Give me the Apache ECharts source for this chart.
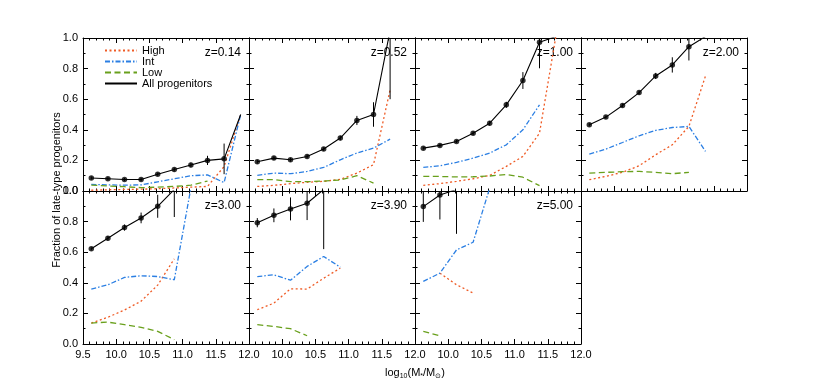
<!DOCTYPE html>
<html>
<head>
<meta charset="utf-8">
<script src="https://cdn.jsdelivr.net/npm/echarts@6/dist/echarts.min.js"></script>
<style>html,body{margin:0;padding:0;background:#fff}#c{width:830px;height:383px}</style>
</head>
<body>
<div id="c"></div>
<script>
// ---------- DATA ----------
const redshiftLabels = ['z=0.14','z=0.52','z=1.00','z=2.00','z=3.00','z=3.90','z=5.00'];
const massBins = [9.625, 9.875, 10.125, 10.375, 10.625, 10.875, 11.125, 11.375, 11.625, 11.875];
const xTicks = [9.5, 10.0, 10.5, 11.0, 11.5, 12.0];
const yTicks = [0.0, 0.2, 0.4, 0.6, 0.8, 1.0];

// fraction of late-type progenitors, per panel (index into massBins)
const highFrac = [
  [0.005,0.008,0.010,0.012,0.015,0.020,0.025,0.030,0.160,0.500],
  [0.030,0.037,0.048,0.057,0.063,0.076,0.117,0.172,0.661],
  [0.037,0.048,0.063,0.080,0.102,0.161,0.226,0.378,1.020],
  [0.074,0.096,0.122,0.165,0.237,0.302,0.422,0.752],
  [0.137,0.175,0.222,0.280,0.385,0.557],
  [0.224,0.267,0.361,0.359,0.430,0.496],
  [null,0.463,0.387,0.333]
];
const intFrac = [
  [0.043,0.040,0.038,0.040,0.060,0.080,0.100,0.105,0.055,0.500],
  [0.102,0.117,0.113,0.128,0.154,0.204,0.248,0.280,0.339],
  [0.154,0.165,0.187,0.215,0.248,0.302,0.400,0.563],
  [0.241,0.274,0.317,0.361,0.396,0.415,0.422,0.259],
  [0.359,0.387,0.435,0.446,0.441,0.420,1.020],
  [0.441,0.452,0.417,0.507,0.572,0.502],
  [0.409,0.463,0.615,0.665,1.020]
];
const lowFrac = [
  [0.038,0.033,0.028,0.022,0.025,0.030,0.038,0.065],
  [0.074,0.074,0.061,0.061,0.065,0.072,0.100,0.052],
  [0.095,0.095,0.092,0.093,0.098,0.108,0.090,0.035],
  [0.117,0.122,0.126,0.128,0.122,0.113,0.122],
  [0.137,0.143,0.126,0.109,0.083,0.028],
  [0.126,0.115,0.100,0.054],
  [0.083,0.054]
];
const allFrac = [
  [0.085,0.080,0.075,0.075,0.110,0.140,0.170,0.200,0.210,0.500],
  [0.191,0.215,0.204,0.226,0.274,0.346,0.461,0.500,1.050],
  [0.280,0.298,0.324,0.378,0.443,0.563,0.722,0.972,1.010],
  [0.433,0.483,0.559,0.643,0.752,0.824,0.943,1.010],
  [0.622,0.691,0.761,0.824,0.900,1.010],
  [0.793,0.841,0.883,0.920,1.010],
  [0.898,0.974,1.010]
];
const allErr = [
  [0.010,0.010,0.010,0.010,0.010,0.012,0.015,0.030,0.100,null],
  [0.012,0.012,0.012,0.012,0.012,0.015,0.030,0.080,0.450],
  [0.010,0.010,0.010,0.012,0.015,0.020,0.055,0.170,null],
  [0.010,0.010,0.012,0.012,0.020,0.050,0.090,null],
  [0.010,0.015,0.020,0.035,0.075,0.180],
  [0.030,0.045,0.075,0.110,0.390],
  [0.100,0.160,0.290]
];
// number of leading points drawn with a filled marker
const allMarkerCount = [9, 8, 8, 7, 5, 4, 2];

// ---------- LAYOUT ----------
const colLeft = [83, 249, 415, 581];
const panelW = 166;
const rowTop = [38, 191];
const panelH = 153;
const panelCol = [0,1,2,3,0,1,2];
const panelRow = [0,0,0,0,1,1,1];
const FONT = "'Liberation Sans', Arial, Helvetica, sans-serif";
const C_HIGH = '#ef5b25', C_INT = '#2b7fe3', C_LOW = '#69a01c', C_ALL = '#000';

const grids = [], xAxes = [], yAxes = [], series = [], graphics = [];

function pts(arr) {
  const out = [];
  arr.forEach((v, i) => { if (v !== null && v !== undefined) out.push([massBins[i], v]); });
  return out;
}

for (let p = 0; p < 7; p++) {
  const left = colLeft[panelCol[p]], top = rowTop[panelRow[p]];
  grids.push({ left: left, top: top, width: panelW, height: panelH, containLabel: false, show: false });
  const showX = panelRow[p] === 1;
  const showY = panelCol[p] === 0;
  const firstHidden = panelCol[p] !== 0;
  const axisCommon = {
    type: 'value', gridIndex: p,
    axisLine: { show: true, onZero: false, lineStyle: { color: '#000', width: 1 } },
    splitLine: { show: false },
    minorSplitLine: { show: false }
  };
  xAxes.push(Object.assign({}, axisCommon, {
    position: 'bottom', min: xTicks[0], max: xTicks[xTicks.length-1], interval: 0.5,
    axisTick: { show: true, inside: true, length: 5, lineStyle: { color: '#000' } },
    minorTick: { show: true, splitNumber: 5, length: 2.5, lineStyle: { color: '#000' } },
    axisLabel: { show: showX, color: '#000', fontSize: 11, fontFamily: FONT, margin: 5,
      formatter: v => (firstHidden && Math.abs(v - 9.5) < 1e-6) ? '' : v.toFixed(1) }
  }));
  xAxes.push(Object.assign({}, axisCommon, {
    position: 'top', min: xTicks[0], max: xTicks[xTicks.length-1], interval: 0.5,
    axisTick: { show: true, inside: true, length: 5, lineStyle: { color: '#000' } },
    minorTick: { show: true, splitNumber: 5, length: 2.5, lineStyle: { color: '#000' } },
    axisLabel: { show: false }
  }));
  yAxes.push(Object.assign({}, axisCommon, {
    position: 'left', min: yTicks[0], max: yTicks[yTicks.length-1], interval: 0.2,
    axisTick: { show: true, inside: true, length: 5, lineStyle: { color: '#000' } },
    minorTick: { show: true, splitNumber: 2, length: 2.5, lineStyle: { color: '#000' } },
    axisLabel: { show: showY, color: '#000', fontSize: 11, fontFamily: FONT, margin: 5,
      formatter: v => v.toFixed(1) }
  }));
  yAxes.push(Object.assign({}, axisCommon, {
    position: 'right', min: yTicks[0], max: yTicks[yTicks.length-1], interval: 0.2,
    axisTick: { show: true, inside: true, length: 5, lineStyle: { color: '#000' } },
    minorTick: { show: true, splitNumber: 2, length: 2.5, lineStyle: { color: '#000' } },
    axisLabel: { show: false }
  }));
  const xi = 2*p, yi = 2*p;
  const lineBase = { type: 'line', xAxisIndex: xi, yAxisIndex: yi, symbol: 'none', silent: true,
    animation: false, clip: true };
  series.push(Object.assign({}, lineBase, { name: 'High', data: pts(highFrac[p]),
    color: C_HIGH, lineStyle: { color: C_HIGH, width: 1.3, type: [2, 2.5] }, z: 3 }));
  series.push(Object.assign({}, lineBase, { name: 'Int', data: pts(intFrac[p]),
    color: C_INT, lineStyle: { color: C_INT, width: 1.3, type: [5, 2, 1.5, 2] }, z: 3 }));
  series.push(Object.assign({}, lineBase, { name: 'Low', data: pts(lowFrac[p]),
    color: C_LOW, lineStyle: { color: C_LOW, width: 1.3, type: [6, 3.5] }, z: 3 }));
  series.push(Object.assign({}, lineBase, { name: 'All progenitors', data: pts(allFrac[p]),
    color: C_ALL, lineStyle: { color: C_ALL, width: 1.1, type: 'solid' }, z: 4 }));
  series.push({ type: 'scatter', name: 'markers' + p, xAxisIndex: xi, yAxisIndex: yi, silent: true,
    animation: false, symbol: 'circle', symbolSize: 5.5, itemStyle: { color: '#000' }, z: 5,
    data: pts(allFrac[p]).slice(0, allMarkerCount[p]) });
  const errData = [];
  allFrac[p].forEach((v, i) => { if (allErr[p][i] !== null) errData.push([massBins[i], v, allErr[p][i]]); });
  series.push({ type: 'custom', name: 'err' + p, xAxisIndex: xi, yAxisIndex: yi, silent: true,
    animation: false, z: 5, clip: true, data: errData,
    renderItem: function (params, api) {
      const x = api.value(0), v = api.value(1), e = api.value(2);
      const lo = Math.max(0, v - e), hi = Math.min(1, v + e);
      const a = api.coord([x, lo]), b = api.coord([x, hi]);
      return { type: 'line', shape: { x1: a[0], y1: a[1], x2: b[0], y2: b[1] },
        style: { stroke: '#000', lineWidth: 1 } };
    } });
  graphics.push({ type: 'text', x: left + panelW - 8, y: top + 15,
    style: { text: redshiftLabels[p], fill: '#000', font: '12px ' + FONT,
      textAlign: 'right', textVerticalAlign: 'middle' } });
}

graphics.push({ type: 'text', x: 57, y: 190, rotation: Math.PI / 2,
  style: { text: 'Fraction of late-type progenitors', fill: '#000', font: '11px ' + FONT,
    textAlign: 'center', textVerticalAlign: 'middle' } });
graphics.push({ type: 'text', x: 415, y: 373,
  style: { text: 'log{s|10}(M{s|*}/M{s|⊙})', fill: '#000', font: '11px ' + FONT,
    textAlign: 'center', textVerticalAlign: 'middle',
    rich: { s: { fontSize: 7, padding: [6, 0, 0, 0], fontFamily: FONT, fill: '#000' } } } });

const chart = echarts.init(document.getElementById('c'), null, { renderer: 'canvas' });
chart.setOption({
  backgroundColor: '#fff',
  animation: false,
  grid: grids,
  xAxis: xAxes,
  yAxis: yAxes,
  legend: {
    data: ['High', 'Int', 'Low', 'All progenitors'],
    orient: 'vertical', left: 99, top: 40,
    itemWidth: 32, itemHeight: 8, itemGap: 0,
    itemStyle: { opacity: 0 },
    textStyle: { color: '#000', fontSize: 11, fontFamily: FONT },
    selectedMode: false
  },
  series: series,
  graphic: graphics
});
</script>
</body>
</html>
